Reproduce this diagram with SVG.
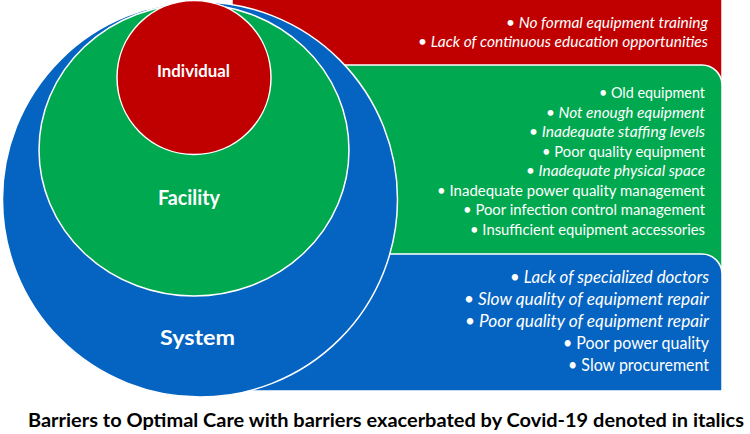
<svg xmlns="http://www.w3.org/2000/svg" width="750" height="434" viewBox="0 0 750 434">
<style>
.box{stroke:#fff;stroke-width:1.5}
.red{fill:#C00000}.grn{fill:#00A84F}.blu{fill:#0563C1}
.t{font-family:Lato,"Open Sans",sans-serif;fill:#fff;text-anchor:end}
.s15{font-size:15.5px}.s17{font-size:17.5px}
.i{font-style:italic}
.lbl{font-family:Lato,"Open Sans",sans-serif;font-weight:bold;fill:#fff;text-anchor:middle}
.cap{font-family:Lato,"Open Sans",sans-serif;font-weight:bold;fill:#000;font-size:18.5px}
</style>
<rect width="750" height="434" fill="#fff"/>
<g id="box-individual">
<path class="box red" d="M232,-5 H722 V110 H232 Z"/>
<text class="t s15 i" x="708" y="28" textLength="202" lengthAdjust="spacingAndGlyphs">• No formal equipment training</text>
<text class="t s15 i" x="708" y="47" textLength="290" lengthAdjust="spacingAndGlyphs">• Lack of continuous education opportunities</text>
</g>
<g id="box-facility">
<path class="box grn" d="M250,65 H702 A20,20 0 0 1 722,85 V300 H250 Z"/>
<text class="t s15" x="705" y="98" textLength="106" lengthAdjust="spacingAndGlyphs">• Old equipment</text>
<text class="t s15 i" x="705" y="117.5" textLength="159" lengthAdjust="spacingAndGlyphs">• Not enough equipment</text>
<text class="t s15 i" x="705" y="137" textLength="176" lengthAdjust="spacingAndGlyphs">• Inadequate staffing levels</text>
<text class="t s15" x="705" y="156.5" textLength="163" lengthAdjust="spacingAndGlyphs">• Poor quality equipment</text>
<text class="t s15 i" x="705" y="176" textLength="179" lengthAdjust="spacingAndGlyphs">• Inadequate physical space</text>
<text class="t s15" x="705" y="195.5" textLength="268" lengthAdjust="spacingAndGlyphs">• Inadequate power quality management</text>
<text class="t s15" x="705" y="215" textLength="242" lengthAdjust="spacingAndGlyphs">• Poor infection control management</text>
<text class="t s15" x="705" y="234.5" textLength="235" lengthAdjust="spacingAndGlyphs">• Insufficient equipment accessories</text>
</g>
<g id="box-system">
<path class="box blu" d="M220,254 H702 A20,20 0 0 1 722,274 V391 H220 Z"/>
<text class="t s17 i" x="709" y="283" textLength="199" lengthAdjust="spacingAndGlyphs">• Lack of specialized doctors</text>
<text class="t s17 i" x="709" y="305" textLength="245" lengthAdjust="spacingAndGlyphs">• Slow quality of equipment repair</text>
<text class="t s17 i" x="709" y="327" textLength="244" lengthAdjust="spacingAndGlyphs">• Poor quality of equipment repair</text>
<text class="t s17" x="709" y="349" textLength="146" lengthAdjust="spacingAndGlyphs">• Poor power quality</text>
<text class="t s17" x="709" y="371" textLength="141" lengthAdjust="spacingAndGlyphs">• Slow procurement</text>
</g>
<g id="circle-system">
<circle class="box blu" cx="200" cy="199.5" r="197.5"/>
<text class="lbl" x="197.5" y="345" font-size="21.5" textLength="75" lengthAdjust="spacingAndGlyphs">System</text>
</g>
<g id="circle-facility">
<ellipse class="box grn" cx="194" cy="150" rx="155" ry="146"/>
<text class="lbl" x="189" y="205" font-size="20.5" textLength="62" lengthAdjust="spacingAndGlyphs">Facility</text>
</g>
<g id="circle-individual">
<circle class="box red" cx="194" cy="77.5" r="77"/>
<text class="lbl" x="193.5" y="77" font-size="17.5" textLength="73" lengthAdjust="spacingAndGlyphs">Individual</text>
</g>
<g id="connectors"/>
<text class="cap" x="28" y="427" textLength="716" lengthAdjust="spacingAndGlyphs">Barriers to Optimal Care with barriers exacerbated by Covid-19 denoted in italics</text>
</svg>
